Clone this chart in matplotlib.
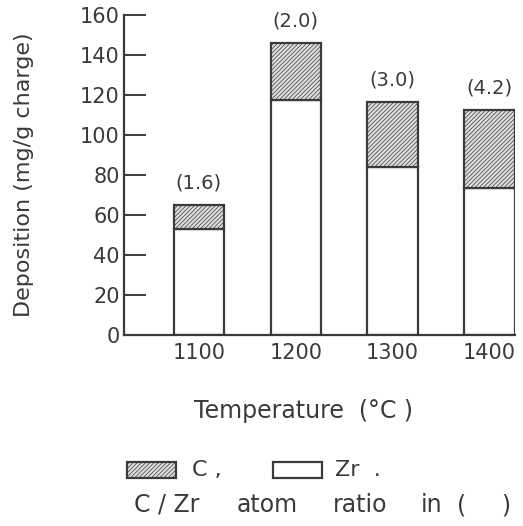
import matplotlib
matplotlib.use("Agg")
import matplotlib.pyplot as plt
from matplotlib.patches import Rectangle

# Deposition per temperature, split into Zr and C parts (mg/g charge)
temperatures = ["1100", "1200", "1300", "1400"]
zr_dep = [53, 117.5, 84, 73.5]
total_dep = [65, 146, 116.5, 112.5]
c_dep = [t - z for t, z in zip(total_dep, zr_dep)]
ratios = ["(1.6)", "(2.0)", "(3.0)", "(4.2)"]

ink = "#3a3a3a"
plt.rcParams["font.family"] = ["DejaVu Sans"]
plt.rcParams["hatch.linewidth"] = 0.5
plt.rcParams["hatch.color"] = "#9a9a9a"

fig = plt.figure(figsize=(5.23, 5.26), dpi=100)
ax = fig.add_axes([0.237, 0.363, 0.748, 0.608])

x = list(range(len(temperatures)))
w = 0.52
ax.bar(x, zr_dep, width=w, color="white", edgecolor=ink, linewidth=1.6)
ax.bar(x, c_dep, width=w, bottom=zr_dep, color="#dedede", edgecolor=ink,
       linewidth=1.6, hatch="////////")

# ratio labels above each bar
for xi, top, r in zip(x, total_dep, ratios):
    ax.text(xi, top + 11, r, ha="center", va="center", fontsize=14, color=ink)

ax.set_xlim(-0.773, 3.265)
ax.set_ylim(0, 160)
ax.set_yticks(range(0, 161, 20))
ax.set_xticks(x)
ax.set_xticklabels(temperatures)
ax.tick_params(axis="y", direction="in", length=16, width=1.4, color=ink,
               labelsize=15, labelcolor=ink, pad=3)
ax.tick_params(axis="x", length=0, labelsize=15, labelcolor=ink, pad=6)
for s in ["top", "right"]:
    ax.spines[s].set_visible(False)
for s in ["left", "bottom"]:
    ax.spines[s].set_color(ink)
    ax.spines[s].set_linewidth(1.6)
ax.spines["bottom"].set_bounds(-0.773, 3.26)

ax.set_ylabel("Deposition (mg/g charge)", fontsize=16, color=ink)
ax.yaxis.set_label_coords(-0.23, 0.5)
ax.set_xlabel("Temperature  (°C )", fontsize=17, color=ink)
ax.xaxis.set_label_coords(0.46, -0.2)

# legend drawn by hand below the axes
W, H = 523, 526
fig.add_artist(Rectangle((127 / W, 1 - 478 / H), 49 / W, 16 / H,
                         transform=fig.transFigure, facecolor="#dedede",
                         edgecolor=ink, linewidth=1.6, hatch="////////"))
fig.text(192 / W, 1 - 470 / H, "C ,", fontsize=16, color=ink, va="center")
fig.add_artist(Rectangle((273 / W, 1 - 478 / H), 49 / W, 16 / H,
                         transform=fig.transFigure, facecolor="white",
                         edgecolor=ink, linewidth=1.6))
fig.text(335 / W, 1 - 470 / H, "Zr  .", fontsize=16, color=ink, va="center")
for px, word in [(167, "C / Zr"), (267, "atom"), (360, "ratio"),
                 (432, "in"), (462, "("), (506, ")")]:
    fig.text(px / W, 1 - 505 / H, word, fontsize=17, color=ink,
             ha="center", va="center")

fig.savefig("out.png", dpi=100)
